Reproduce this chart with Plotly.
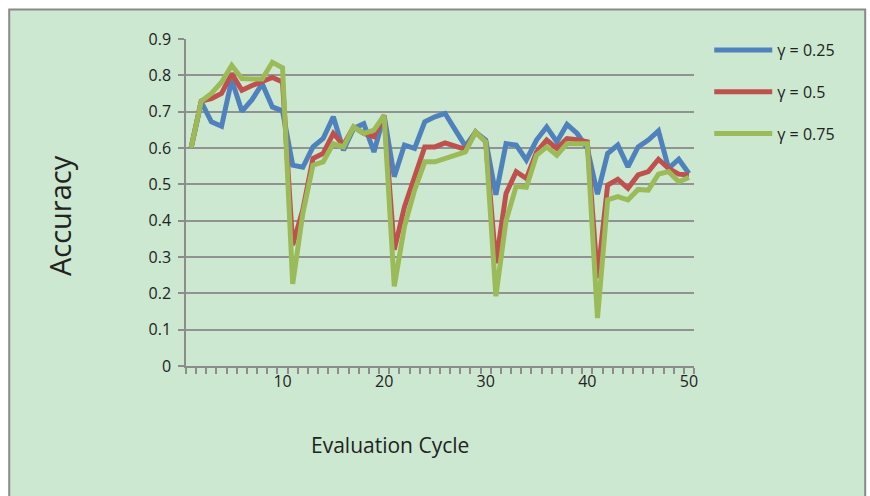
import plotly.graph_objects as go

cycles = list(range(1, 51))
x_tick_vals = [10, 20, 30, 40, 50]
y_tick_vals = [0, 0.1, 0.2, 0.3, 0.4, 0.5, 0.6, 0.7, 0.8, 0.9]
y_tick_text = ["0", "0.1", "0.2", "0.3", "0.4", "0.5", "0.6", "0.7", "0.8", "0.9"]

series_names = ["γ = 0.25", "γ = 0.5", "γ = 0.75"]

acc_g025 = [0.60, 0.727, 0.672, 0.66, 0.788, 0.701, 0.733, 0.777, 0.713, 0.702,
            0.553, 0.547, 0.603, 0.626, 0.686, 0.594, 0.654, 0.667, 0.589, 0.69,
            0.521, 0.608, 0.599, 0.672, 0.686, 0.695, 0.65, 0.605, 0.644, 0.622,
            0.471, 0.612, 0.608, 0.567, 0.622, 0.658, 0.617, 0.665, 0.64, 0.599,
            0.473, 0.585, 0.608, 0.548, 0.603, 0.622, 0.647, 0.544, 0.569, 0.53]

acc_g05 = [0.60, 0.729, 0.736, 0.75, 0.805, 0.759, 0.772, 0.782, 0.794, 0.782,
           0.333, 0.43, 0.571, 0.585, 0.64, 0.608, 0.658, 0.64, 0.631, 0.69,
           0.32, 0.438, 0.516, 0.603, 0.603, 0.614, 0.605, 0.596, 0.644, 0.617,
           0.283, 0.475, 0.535, 0.516, 0.589, 0.622, 0.599, 0.626, 0.623, 0.617,
           0.242, 0.498, 0.514, 0.489, 0.526, 0.535, 0.569, 0.544, 0.528, 0.526]

acc_g075 = [0.60, 0.729, 0.75, 0.781, 0.827, 0.791, 0.79, 0.79, 0.836, 0.821,
            0.226, 0.42, 0.553, 0.562, 0.612, 0.603, 0.658, 0.64, 0.649, 0.69,
            0.219, 0.384, 0.484, 0.562, 0.562, 0.571, 0.583, 0.589, 0.644, 0.617,
            0.192, 0.40, 0.495, 0.492, 0.58, 0.603, 0.58, 0.612, 0.612, 0.612,
            0.132, 0.457, 0.466, 0.457, 0.486, 0.484, 0.528, 0.535, 0.507, 0.519]

colors = ["#4F81BD", "#C0504D", "#9BBB59"]
FONT = "'Open Sans', Lato, sans-serif"
BG = "#CDE8D0"

fig = go.Figure()
for i, (name, vals) in enumerate(zip(series_names, [acc_g025, acc_g05, acc_g075])):
    fig.add_trace(go.Scatter(
        x=cycles, y=vals, mode="lines", name=name,
        legendgroup=f"g{i}",
        line=dict(color=colors[i], width=5, shape="linear"),
    ))

# chart border / background
fig.add_shape(type="rect", xref="paper", yref="paper",
              x0=-0.348, x1=1.337, y0=-0.45, y1=1.090,
              line=dict(color="#8A8A8A", width=2), fillcolor=BG, layer="below")

fig.update_layout(
    width=870, height=496,
    margin=dict(l=186, r=175.5, t=38.5, b=129.5),
    paper_bgcolor="white",
    plot_bgcolor=BG,
    font=dict(family=FONT, size=16, color="#222222"),
    showlegend=True,
    legend=dict(x=1.03, y=1.018, xanchor="left", yanchor="top",
                bgcolor="rgba(0,0,0,0)", tracegroupgap=18, itemwidth=58,
                font=dict(size=16, color="#222222")),
    xaxis=dict(range=[0.5, 50.5], tickmode="array", tickvals=x_tick_vals,
               ticktext=[str(v) for v in x_tick_vals],
               ticks="outside", ticklen=0, showgrid=False, zeroline=False,
               showline=True, linecolor="#8C8C8C", linewidth=1.5,
               tickfont=dict(size=16),
               minor=dict(ticks="outside", tick0=0.5, dtick=1, ticklen=6,
                          tickcolor="#8C8C8C", tickwidth=1.5, showgrid=False)),
    yaxis=dict(range=[0, 0.9], tickmode="array", tickvals=y_tick_vals,
               ticktext=y_tick_text, ticks="outside", ticklen=6,
               tickcolor="#8C8C8C", tickwidth=1.5,
               showgrid=True, gridcolor="#929292", gridwidth=1.5,
               zeroline=False, showline=True, linecolor="#8C8C8C", linewidth=1.5,
               tickfont=dict(size=16), ticklabelstandoff=4),
    annotations=[
        dict(text="Accuracy", xref="paper", yref="paper",
             x=(60 - 186) / 508.5, y=(366.5 - 216) / 328,
             showarrow=False, textangle=-90, font=dict(size=29),
             xanchor="center", yanchor="middle"),
        dict(text="Evaluation Cycle", xref="paper", yref="paper",
             x=(390 - 186) / 508.5, y=(366.5 - 446) / 328,
             showarrow=False, font=dict(size=21),
             xanchor="center", yanchor="middle"),
    ],
)

fig.write_html("out.html", config={"displayModeBar": False},
               post_script="document.body.style.margin='0';")
